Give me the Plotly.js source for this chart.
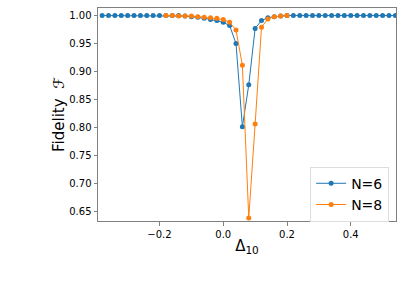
<!DOCTYPE html>
<html><head><meta charset="utf-8">
<script src="https://cdn.plot.ly/plotly-3.0.1.min.js"></script>
<style>html,body{margin:0;padding:0;background:#fff}</style>
</head><body><div id="chart" style="width:416px;height:285px"></div>
<script>
const xN6 = [-0.38,-0.36,-0.34,-0.32,-0.30,-0.28,-0.26,-0.24,-0.22,-0.20,-0.18,-0.16,-0.14,-0.12,-0.10,-0.08,-0.06,-0.04,-0.02,0.00,0.02,0.04,0.06,0.08,0.10,0.12,0.14,0.16,0.18,0.20,0.22,0.24,0.26,0.28,0.30,0.32,0.34,0.36,0.38,0.40,0.42,0.44,0.46,0.48,0.50,0.52,0.54];
const yN6 = [1.0,1.0,1.0,1.0,1.0,1.0,1.0,1.0,1.0,1.0,1.0,1.0,1.0,0.999,0.998,0.997,0.995,0.993,0.991,0.988,0.982,0.950,0.801,0.876,0.977,0.991,0.996,0.998,0.999,1.0,1.0,1.0,1.0,1.0,1.0,1.0,1.0,1.0,1.0,1.0,1.0,1.0,1.0,1.0,1.0,1.0,1.0];
const xN8 = [-0.18,-0.16,-0.14,-0.12,-0.10,-0.08,-0.06,-0.04,-0.02,0.00,0.02,0.04,0.06,0.08,0.10,0.12,0.14,0.16,0.18,0.20];
const yN8 = [1.0,1.0,0.999,0.999,0.999,0.998,0.997,0.996,0.995,0.993,0.988,0.974,0.911,0.638,0.806,0.979,0.994,0.998,0.999,1.0];
const seriesNames = ["N=6","N=8"];
const xTicks = [-0.2,0.0,0.2,0.4];
const xTickText = ["\u22120.2","0.0","0.2","0.4"];
const yTicks = [0.65,0.70,0.75,0.80,0.85,0.90,0.95,1.00];

const mk = (x,y,name,color)=>({x:x,y:y,name:name,type:'scatter',mode:'lines+markers',
  line:{color:color,width:1},marker:{color:color,size:5},cliponaxis:true});
const data = [mk(xN6,yN6,seriesNames[0],'#1f77b4'), mk(xN8,yN8,seriesNames[1],'#ff7f0e')];
const axBase = {showgrid:false,zeroline:false,showline:true,mirror:true,linecolor:'#808080',linewidth:1,
  ticks:'outside',ticklen:3.5,tickcolor:'#808080',tickfont:{family:'DejaVu Sans',size:10,color:'#000'}};
const layout = {
  width:416,height:285,margin:{l:98,r:20,t:8,b:64},paper_bgcolor:'#fff',plot_bgcolor:'#fff',
  font:{family:'DejaVu Sans',color:'#000'},
  xaxis:Object.assign({},axBase,{range:[-0.393,0.542],tickvals:xTicks,ticktext:xTickText,
    title:{text:'Δ<sub>10</sub>',font:{size:15},standoff:1}}),
  yaxis:Object.assign({},axBase,{range:[0.6325,1.0135],tickvals:yTicks,tickformat:'.2f',
    title:{text:'Fidelity  <i>ℱ</i>',font:{size:15},standoff:0}}),
  showlegend:true,
  legend:{x:0.977,y:0.255,xanchor:'right',yanchor:'top',bgcolor:'#fff',bordercolor:'#dddddd',borderwidth:1,
    font:{size:14,family:'DejaVu Sans'},itemwidth:30,tracegroupgap:0}
};
Plotly.newPlot('chart',data,layout,{displayModeBar:false,staticPlot:true});
</script></body></html>
